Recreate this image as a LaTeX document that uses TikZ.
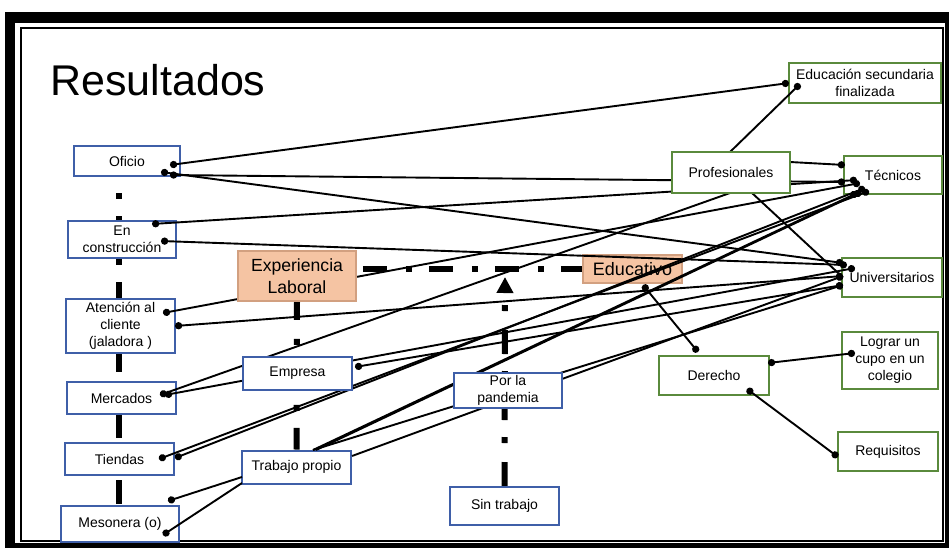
\documentclass[tikz,border=0pt]{standalone}
\usepackage{fontspec}
\setmainfont{Liberation Sans}
\usetikzlibrary{arrows.meta,calc}
\pgfdeclarelayer{framelayer}
\pgfdeclarelayer{bgl}
\pgfdeclarelayer{fg}
\pgfsetlayers{framelayer,bgl,main,fg}
\definecolor{bbox}{HTML}{3F5FA8}
\definecolor{gbox}{HTML}{5A8A3C}
\definecolor{ofill}{HTML}{F5C4A3}
\definecolor{oline}{HTML}{D2A080}
\begin{document}
\begin{tikzpicture}[x=0.5pt,y=-0.5pt,
  bx/.style={draw=bbox, line width=1pt, fill=white, align=center, font=\fontsize{7}{8.5}\selectfont, inner sep=0pt},
  gx/.style={draw=gbox, line width=1pt, fill=white, align=center, font=\fontsize{7}{8.5}\selectfont, inner sep=0pt},
  ox/.style={draw=oline, line width=0.8pt, fill=ofill, align=center, font=\fontsize{8.8}{11}\selectfont, inner sep=0pt},
  ln/.style={line width=0.95pt, black},
  dd/.style={ln, {Circle[length=3.6pt 0 0]}-{Circle[length=3.6pt 0 0]}},
  ds/.style={ln, {Circle[length=3.6pt 0 0]}-},
  de/.style={ln, -{Circle[length=3.6pt 0 0]}},
  thickdd/.style={line width=3pt, dash pattern=on 12pt off 9.5pt on 3pt off 8.5pt}
]
\useasboundingbox (0,0) rectangle (949,552);
\begin{pgfonlayer}{framelayer}
\fill[black] (5,12) rectangle (949,548);
\fill[white] (15,23) rectangle (945,543);
\draw[line width=1pt] (21,27.5) rectangle (943,541);
\end{pgfonlayer}

\node[anchor=base west, font=\fontsize{21.5}{24}\selectfont, inner sep=0pt] (title) at (50,95) {Resultados};

% left column
\node[bx, minimum width=53pt, minimum height=15pt] (oficio) at (127,161) {Oficio};
\node[bx, minimum width=54pt, minimum height=18.5pt] (encons) at (122,239.5) {En\\construcción};
\node[bx, minimum width=54.5pt, minimum height=27pt] (atencion) at (120.5,326) {Atención al\\cliente\\(jaladora )};
\node[bx, minimum width=54.5pt, minimum height=16pt] (mercados) at (121.5,398) {Mercados};
\node[bx, minimum width=54.5pt, minimum height=16pt] (tiendas) at (119.5,459) {Tiendas};
\node[bx, minimum width=59pt, minimum height=18pt] (mesonera) at (120,524) {Mesonera (o)};

% middle
\node[bx, minimum width=54.5pt, minimum height=16.5pt] (trabajo) at (296.5,467) {Trabajo propio};
\node[bx, minimum width=54.5pt, minimum height=19pt] (sintrabajo) at (504.5,506) {Sin trabajo};
\node[ox, minimum width=49.5pt, minimum height=14pt, font=\fontsize{9}{11}\selectfont] (educ) at (632.5,269) {Educativo};

% right column
\node[gx, minimum width=76pt, minimum height=20pt] (edusec) at (865,83) {Educación secundaria\\finalizada};
\node[gx, minimum width=49pt, minimum height=19pt] (tec) at (893,175) {Técnicos};
\node[gx, minimum width=50pt, minimum height=19.5pt] (univ) at (892,277.5) {Universitarios};
\node[gx, minimum width=48pt, minimum height=28.5pt] (lograr) at (890,360.5) {Lograr un\\cupo en un\\colegio};
\node[gx, minimum width=55pt, minimum height=19.5pt] (derecho) at (714,375.5) {Derecho};
\node[gx, minimum width=50pt, minimum height=19.5pt] (requisitos) at (888,451.5) {Requisitos};

\begin{pgfonlayer}{fg}
\node[ox, minimum width=59pt, minimum height=25pt] (exp) at (297,276) {Experiencia\\Laboral};
\node[bx, minimum width=54.5pt, minimum height=16.5pt] (empresa) at (297.5,373.5) {Empresa};
\node[bx, minimum width=54pt, minimum height=17.5pt] (porla) at (508,390.5) {Por la\\pandemia};
\node[gx, minimum width=59pt, minimum height=20.5pt] (prof) at (731,172.5) {Profesionales};
\end{pgfonlayer}

% thick dash-dot structure lines
\coordinate (lctop) at (119,176);
\coordinate (lcbot) at (119,515);
\coordinate (ptip) at (505,277);
\begin{pgfonlayer}{bgl}
\draw[thickdd, dash phase=13pt] (lctop) -- (lcbot);
\draw[thickdd, dash phase=30pt] ([yshift=3.5pt]exp.east) -- (educ.west);
\draw[thickdd, dash phase=3pt] (exp.south) -- (trabajo.north);
\draw[thickdd, -{Triangle[width=8pt 0 0,length=8pt 0 0]}] (sintrabajo.north) -- (ptip);
\end{pgfonlayer}

% connectors
\draw[dd] ([shift={(43,4)}]oficio.center) -- ([shift={(-76,0)}]edusec.center);
\draw[dd] ([shift={(43,14)}]oficio.center) -- ([shift={(-48,7)}]tec.center);
\draw[dd] ([shift={(34,11)}]oficio.center) -- ([shift={(-49,-14.5)}]univ.center);
\draw[dd] ([shift={(30,-15.5)}]encons.center) -- ([shift={(-36,5)}]tec.center);
\draw[dd] ([shift={(39,1.5)}]encons.center) -- ([shift={(-45,-12.5)}]univ.center);
\draw[dd] ([shift={(42.5,-13)}]atencion.center) -- ([shift={(-33,8)}]tec.center);
\draw[dd] ([shift={(54.5,0)}]atencion.center) -- ([shift={(-49,-1.5)}]univ.center);
\draw[ds] ([shift={(38.5,-3)}]mercados.center) -- ([shift={(-1,20.5)}]prof.center);
\draw[dd] ([shift={(43.5,-3)}]mercados.center) -- ([shift={(-37,-9.5)}]univ.center);
\draw[dd] ([shift={(39.5,0)}]tiendas.center) -- ([shift={(-24,16)}]tec.center);
\draw[dd] ([shift={(55.5,-1)}]tiendas.center) -- ([shift={(-28,13)}]tec.center);
\draw[ds] ([shift={(48,-23)}]mesonera.center) -- ([shift={(-54.5,10)}]trabajo.center);
\draw[ds] ([shift={(43,11)}]mesonera.center) -- ([shift={(-54.5,16)}]trabajo.center);
\draw[dd] ([shift={(57.5,-6.5)}]empresa.center) -- ([shift={(-49,7.5)}]univ.center);
\draw[de] ([shift={(16.5,-17)}]trabajo.center) -- ([shift={(-36,18)}]tec.center);
\draw[de] ([shift={(19.5,-17)}]trabajo.center) -- ([shift={(-32,17)}]tec.center);
\draw[de] ([shift={(16.5,-17)}]trabajo.center) -- ([shift={(-49,7.5)}]univ.center);
\draw[de] ([shift={(55.5,-11)}]trabajo.center) -- ([shift={(-49,-1.5)}]univ.center);
\draw[de] ([shift={(59,-10.5)}]prof.center) -- ([shift={(-48,-10)}]tec.center);
\draw[de] ([shift={(-1,-20.5)}]prof.center) -- ([shift={(-65,1)}]edusec.center);
\draw[ln] ([shift={(21,20.5)}]prof.center) -- ([shift={(-49,0)}]univ.center);
\draw[dd] ([shift={(10.5,16)}]educ.center) -- ([shift={(-16,-23.5)}]derecho.center);
\draw[dd] ([shift={(54,-12.5)}]derecho.center) -- ([shift={(-35,-7.5)}]lograr.center);
\draw[dd] ([shift={(33,13.5)}]derecho.center) -- ([shift={(-50,5.5)}]requisitos.center);
\end{tikzpicture}
\end{document}
